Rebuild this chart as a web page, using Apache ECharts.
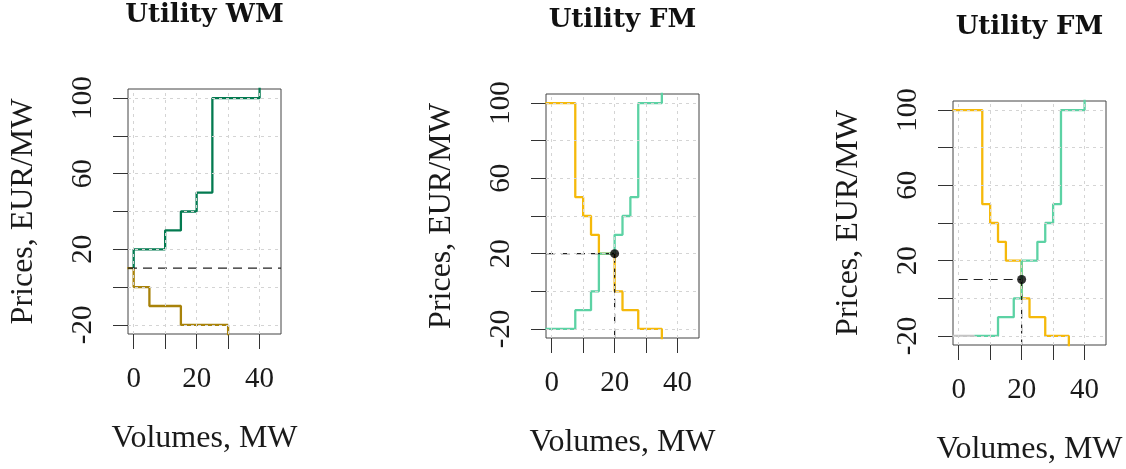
<!DOCTYPE html>
<html>
<head>
<meta charset="utf-8">
<script src="https://cdn.jsdelivr.net/npm/echarts@6/dist/echarts.min.js"></script>
<style>
html, body { margin: 0; padding: 0; background: #fff; }
#main { width: 1126px; height: 469px; }
</style>
</head>
<body>
<div id="main"></div>
<script>
// axis ranges (data range plus 4%, like R)
var xMin = -1.8, xMax = 46.8, yMin = -24.8, yMax = 104.8;
var xTicks = [0, 10, 20, 30, 40];
var xLabels = [0, 20, 40];
var yTicks = [-20, 0, 20, 40, 60, 80, 100];
var yLabels = [-20, 20, 60, 100];

var titles = ['Utility WM', 'Utility FM', 'Utility FM'];

// step curves: volume / price of each corner (drawn with step: 'end')
// panel 1 - Utility WM
var wmBuyVol = [-2, 0, 5, 15, 30];
var wmBuyPrice = [10, 0, -10, -20, -30];
var wmSellVol = [0, 0, 10, 15, 20, 25, 40];
var wmSellPrice = [10, 20, 30, 40, 50, 100, 110];
var wmClearPrice = 10;

// panel 2 - Utility FM
var fmBuyVol = [-2, 7.5, 10, 12.5, 15, 20, 22.5, 27.5, 35];
var fmBuyPrice = [100, 50, 40, 30, 20, 0, -10, -20, -30];
var fmSellVol = [-2, 7.5, 12.5, 15, 20, 22.5, 25, 27.5, 35];
var fmSellPrice = [-20, -10, 0, 20, 30, 40, 50, 100, 110];
var fmClear = [20, 20];

// panel 3 - Utility FM
var fm2BuyVol = [-2, 7.5, 10, 12.5, 15, 20, 22.5, 27.5, 35];
var fm2BuyPrice = [100, 50, 40, 30, 20, 0, -10, -20, -30];
var fm2GreyVol = [-2, 5];
var fm2GreyPrice = [-20, -20];
var fm2SellVol = [5, 12.5, 17.5, 20, 25, 27.5, 30, 32.5, 40];
var fm2SellPrice = [-20, -10, 0, 20, 30, 40, 50, 100, 110];
var fm2Clear = [20, 10];

var serif = 'Liberation Serif';
var boxes = [
    {left: 128, top: 89, width: 153, height: 245},
    {left: 546, top: 94, width: 153, height: 244},
    {left: 953, top: 101, width: 153, height: 244}
];

function pts(xs, ys) {
    return xs.map(function (x, i) { return [x, ys[i]]; });
}

function curve(i, xs, ys, color, z) {
    return {
        type: 'line', xAxisIndex: i, yAxisIndex: i,
        data: pts(xs, ys), step: 'end', showSymbol: false, z: z || 3,
        lineStyle: {color: color, width: 2.3}, clip: true, silent: true
    };
}

function dashed(i, a, b) {
    return {
        type: 'line', xAxisIndex: i, yAxisIndex: i,
        data: [a, b], showSymbol: false, z: 4, clip: true, silent: true,
        lineStyle: {color: '#222', width: 1.2, type: [9, 6]}
    };
}

function dot(i, p) {
    return {
        type: 'scatter', xAxisIndex: i, yAxisIndex: i, data: [p],
        symbolSize: 9, itemStyle: {color: '#000'}, z: 5, silent: true
    };
}

function gridLines(i) {
    var d = xTicks.map(function (v) { return {xAxis: v}; })
        .concat(yTicks.map(function (v) { return {yAxis: v}; }));
    return {
        type: 'line', xAxisIndex: i, yAxisIndex: i, data: [[xMin, yMin]],
        showSymbol: false, lineStyle: {width: 0}, z: 1, silent: true,
        markLine: {
            silent: true, symbol: ['none', 'none'], label: {show: false},
            lineStyle: {color: '#d4d4d4', width: 1, type: [3, 4]},
            emphasis: {disabled: true}, animation: false, data: d
        }
    };
}

var grid = [], xAxis = [], yAxis = [], title = [];
boxes.forEach(function (b, i) {
    grid.push({left: b.left, top: b.top, width: b.width, height: b.height,
        show: true, borderColor: '#444', borderWidth: 1, outerBoundsMode: 'none'});
    xAxis.push({
        gridIndex: i, type: 'value', min: xMin, max: xMax, position: 'bottom',
        axisLine: {show: false, onZero: false}, splitLine: {show: false},
        axisTick: {show: true, customValues: xTicks, length: 15, lineStyle: {color: '#333'}},
        axisLabel: {customValues: xLabels, margin: 31, fontFamily: serif, fontSize: 29, color: '#1a1a1a'},
        name: 'Volumes, MW', nameLocation: 'middle', nameGap: 89,
        nameTextStyle: {fontFamily: serif, fontSize: 32, color: '#1a1a1a'}
    });
    yAxis.push({
        gridIndex: i, type: 'value', min: yMin, max: yMax, position: 'left',
        axisLine: {show: false, onZero: false}, splitLine: {show: false},
        axisTick: {show: true, customValues: yTicks, length: 15, lineStyle: {color: '#333'}},
        axisLabel: {customValues: yLabels, rotate: 90, margin: 30, fontFamily: serif, fontSize: 29, color: '#1a1a1a'},
        name: 'Prices, EUR/MW', nameLocation: 'middle', nameRotate: 90, nameGap: 88,
        nameTextStyle: {fontFamily: serif, fontSize: 32, color: '#1a1a1a'}
    });
    title.push({
        text: titles[i], left: b.left + b.width / 2, top: b.top - 88, textAlign: 'center', padding: 0,
        textStyle: {fontFamily: 'DejaVu Serif', fontWeight: 'bold', fontSize: 26, color: '#111', lineHeight: 28}
    });
});

var series = [
    gridLines(0), gridLines(1), gridLines(2),
    // panel 1
    curve(0, wmBuyVol, wmBuyPrice, '#a8820a'),
    curve(0, wmSellVol, wmSellPrice, '#037a50'),
    dashed(0, [xMin, wmClearPrice], [xMax, wmClearPrice]),
    // panel 2
    curve(1, fmBuyVol, fmBuyPrice, '#f5b90a'),
    curve(1, fmSellVol, fmSellPrice, '#5cd2a4'),
    dashed(1, [xMin, fmClear[1]], fmClear),
    dashed(1, fmClear, [fmClear[0], yMin]),
    dot(1, fmClear),
    // panel 3
    curve(2, fm2BuyVol, fm2BuyPrice, '#f5b90a'),
    curve(2, fm2GreyVol, fm2GreyPrice, '#c4c4c4'),
    curve(2, fm2SellVol, fm2SellPrice, '#5cd2a4'),
    dashed(2, [0, fm2Clear[1]], fm2Clear),
    dashed(2, fm2Clear, [fm2Clear[0], yMin]),
    dot(2, fm2Clear)
];

var myChart = echarts.init(document.getElementById('main'));
myChart.setOption({
    animation: false,
    title: title,
    grid: grid,
    xAxis: xAxis,
    yAxis: yAxis,
    series: series
});
window.onresize = function () {
    myChart.resize();
};
</script>
</body>
</html>
